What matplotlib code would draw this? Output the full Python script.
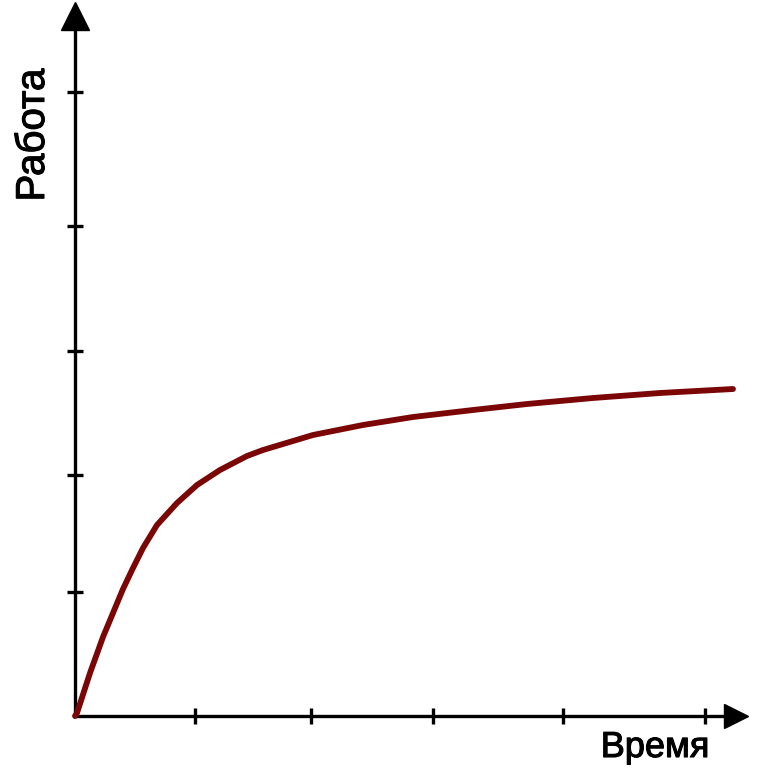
import matplotlib.pyplot as plt
import matplotlib.patheffects as pe

# curve (time, work), units = pixels from origin
time_vals = [0, 2, 15, 28, 38, 48, 58, 68, 82, 102, 122, 145, 172, 188,
             238, 288, 338, 398, 452, 518, 585, 658]
work_vals = [0, 3, 43, 79, 103, 127, 148, 168, 191, 213, 231, 246, 260, 266,
             281, 291, 299, 306, 312, 318, 323, 327]

x_ticks = [120, 236, 358, 488, 630]
y_ticks = [124, 241, 365, 490, 624]

plt.rcParams["font.family"] = ["Liberation Sans", "DejaVu Sans"]

fig = plt.figure(figsize=(7.57, 7.70), dpi=100)
ax = fig.add_axes([0, 0, 1, 1])
ax.set_xlim(-75, 682)
ax.set_ylim(-54, 716)

ax.plot(time_vals, work_vals, color="#7a0606", linewidth=4.2,
        solid_capstyle="round", solid_joinstyle="round", zorder=3)

# axes as spines through the origin
for side in ["top", "right"]:
    ax.spines[side].set_visible(False)
ax.spines["left"].set_position(("data", 0))
ax.spines["bottom"].set_position(("data", 0))
ax.spines["left"].set_bounds(0, 695)
ax.spines["bottom"].set_bounds(0, 660)
for side in ["left", "bottom"]:
    ax.spines[side].set_linewidth(2.4)

ax.set_xticks(x_ticks)
ax.set_yticks(y_ticks)
ax.set_xticklabels([])
ax.set_yticklabels([])
ax.tick_params(direction="inout", length=11, width=2.4, color="black")

# arrow heads
ax.plot(0, 700, marker="^", color="black", markersize=20, clip_on=False)
ax.plot(661, 0, marker=">", color="black", markersize=17, clip_on=False)

bold_fx = [pe.withStroke(linewidth=0.8, foreground="black")]
ax.text(-42, 581, "Работа", rotation=90, fontsize=29, ha="center",
        va="center", path_effects=bold_fx)
ax.text(580, -41, "Время", fontsize=26, ha="center", va="baseline",
        path_effects=bold_fx)

fig.savefig("out.png", dpi=100)
